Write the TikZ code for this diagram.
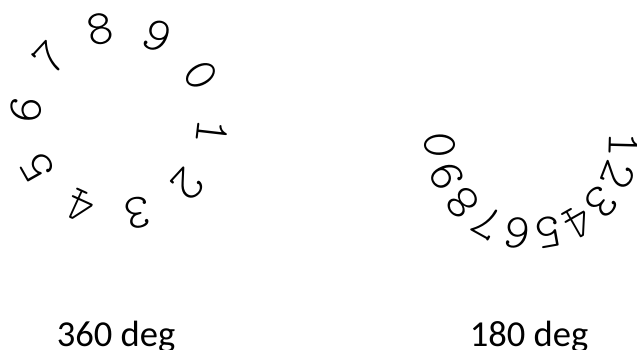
\documentclass[tikz,border=0pt]{standalone}
\usepackage{fontspec}
\usepackage{tikz}
\usetikzlibrary{calc}
\newfontfamily\capfont{Carlito}

\begin{document}
\begin{tikzpicture}[
  digit/.style={inner sep=0pt, font=\ttfamily\fontseries{l}\fontsize{35}{35}\selectfont},
  caption/.style={anchor=base, inner sep=0pt, font=\capfont\fontsize{26}{26}\selectfont}
]

\useasboundingbox (0,0) rectangle (15.925,-8.75);

\coordinate (lc) at (2.975,-3.025);
\coordinate (rc) at (13.3,-3.55);

% full turn
\foreach \d [count=\i from 0] in {1,2,3,4,5,6,7,8,9,0} {
  \node[digit, rotate={-6.5-36*\i-90}] (l\d) at ($(lc)+({-6.5-36*\i}:2.34)$) {\d};
}

% half turn
\foreach \d [count=\i from 0] in {1,2,3,4,5,6,7,8,9,0} {
  \node[digit, rotate={-1.5-19.6*\i-90}] (r\d) at ($(rc)+({-1.5-19.6*\i}:2.3)$) {\d};
}

\node[caption] (lcap) at (2.9,-8.65) {360 deg};
\node[caption] (rcap) at (13.225,-8.65) {180 deg};

\end{tikzpicture}
\end{document}
